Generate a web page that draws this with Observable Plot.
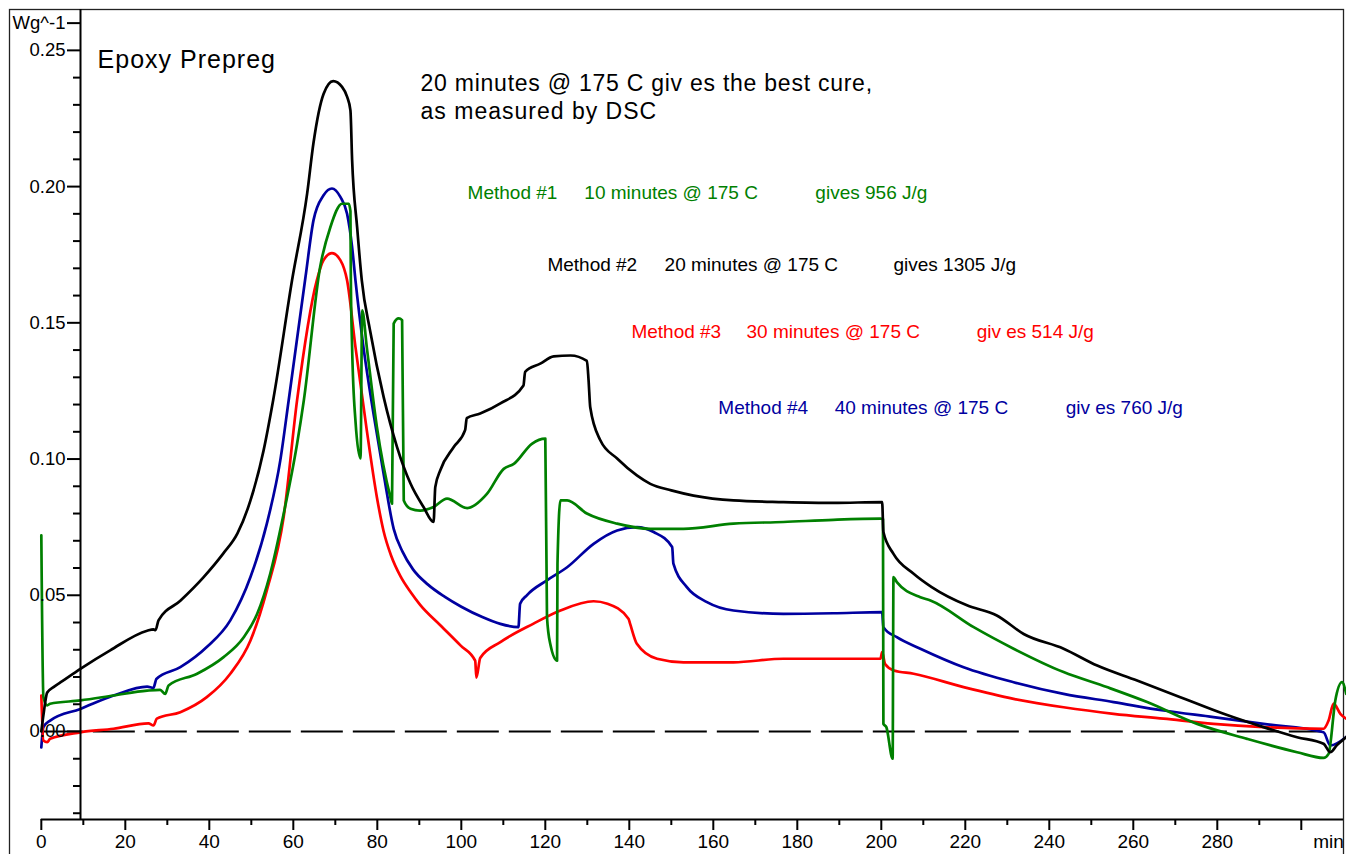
<!DOCTYPE html>
<html><head><meta charset="utf-8">
<script src="https://cdn.jsdelivr.net/npm/d3@7"></script>
<script src="https://cdn.jsdelivr.net/npm/@observablehq/plot@0.6"></script>
<style>body{margin:0;background:#fff;} svg{display:block;}</style>
</head><body><div id="chart"></div>
<script>
// ---- Data: DSC heat flow (W/g) vs time (min) ----
// Method #1 (green): 10 minutes @ 175 C
const method1 = [[0,0.072],[0.5,0.0126],[1.4,0.0096],[2.1,0.0102],[9.3,0.0114],[17.2,0.0132],[25.2,0.015],[28.3,0.0153],[29.5,0.0138],[30.3,0.0169],[37.1,0.0212],[43.4,0.0273],[48.2,0.0346],[51.4,0.0432],[54.5,0.0579],[57.7,0.0799],[60.9,0.1056],[62.5,0.1215],[66.4,0.1706],[68.8,0.185],[71.6,0.1937],[73.2,0.1937],[73.6,0.191],[73.7,0.1656],[74,0.141],[74.8,0.114],[76,0.1002],[76.4,0.1546],[77.5,0.141],[79.9,0.1118],[83.1,0.086],[83.5,0.0836],[83.9,0.1497],[85.1,0.1516],[85.9,0.151],[86.3,0.0848],[87.9,0.0818],[90.2,0.0811],[93.4,0.0824],[96.6,0.0855],[101.4,0.082],[106.1,0.0872],[110.1,0.0964],[112.5,0.0982],[116.8,0.1056],[120,0.1075],[120.4,0.042],[121.2,0.032],[122.8,0.026],[122.9,0.0616],[123.6,0.0848],[125.2,0.0848],[129.9,0.080],[137.1,0.0763],[145,0.0744],[152.9,0.0744],[164.8,0.0763],[176.7,0.0769],[188.6,0.0777],[199.8,0.0781],[200.4,0.078],[200.5,0.0028],[201.2,0.0016],[202.7,-0.01],[202.9,0.0567],[203.7,0.0548],[209.3,0.0493],[211.7,0.0481],[222,0.0383],[231.5,0.0304],[243.4,0.0218],[253.7,0.0163],[263.3,0.0108],[275.2,0.0028],[287.1,-0.0027],[299,-0.0076],[305.3,-0.0097],[306.5,-0.0082],[308.1,0.0114],[309.7,0.0181],[310.7,0.0138]];
// Method #2 (black): 20 minutes @ 175 C
const method2 = [[0,0.0],[0.5,0.006],[1.4,0.0143],[2.9,0.0163],[5,0.0185],[9.3,0.023],[16.4,0.0298],[25.2,0.037],[26.7,0.0375],[27.2,0.0372],[27.9,0.0408],[33.1,0.048],[38.6,0.0566],[43.3,0.0653],[46.7,0.0727],[49.8,0.0848],[52.9,0.103],[55.2,0.1216],[59.7,0.1656],[63.3,0.1975],[64.8,0.216],[67.2,0.234],[69.5,0.2387],[71.6,0.2366],[72.8,0.233],[73.6,0.228],[74.0,0.2098],[75.2,0.185],[76.3,0.1657],[78.3,0.147],[81.5,0.1228],[84.7,0.1044],[87.9,0.091],[91.0,0.0824],[93.4,0.0769],[93.8,0.0897],[95.0,0.0959],[98.2,0.1044],[100.9,0.1106],[101.3,0.115],[104.5,0.1167],[109.3,0.1204],[114.8,0.127],[115.2,0.132],[118.8,0.135],[122,0.1377],[126,0.138],[129.9,0.136],[130.3,0.129],[130.7,0.119],[133.1,0.1069],[137.1,0.1002],[141.8,0.094],[145,0.0909],[150,0.0885],[155.3,0.0866],[164.8,0.0848],[176.7,0.0842],[188.6,0.0839],[200.2,0.0842],[200.5,0.0732],[202.9,0.0652],[207.7,0.0579],[212,0.053],[220.4,0.0463],[227.5,0.0426],[233.9,0.0358],[243.4,0.0304],[251.4,0.0242],[260.9,0.0187],[271.2,0.0126],[281.5,0.0065],[291,0.0016],[299,-0.0021],[305.3,-0.0045],[306.9,-0.0076],[308.5,-0.005],[310.7,-0.002]];
// Method #3 (red): 30 minutes @ 175 C
const method3 = [[0,0.0132],[0.5,-0.0033],[1.4,-0.0039],[2.1,-0.0027],[9.3,-0.0003],[17.2,0.001],[25.5,0.003],[26.7,0.0022],[27.5,0.0047],[33.1,0.0071],[39.4,0.0126],[45,0.0212],[49.8,0.0334],[53.7,0.0518],[57.7,0.0787],[60.9,0.1216],[65.6,0.1656],[67.2,0.173],[69.2,0.1756],[71.2,0.173],[72.8,0.1656],[74.8,0.1411],[77.5,0.1105],[79.9,0.086],[81.5,0.0735],[83.3,0.0645],[85.5,0.057],[88,0.051],[90.2,0.0465],[95,0.039],[99.8,0.0316],[103.3,0.026],[103.6,0.0198],[104.5,0.027],[109.3,0.0328],[117.2,0.0396],[123.6,0.0444],[131.5,0.0478],[134.8,0.0469],[139.8,0.0414],[140.2,0.0395],[141.8,0.0322],[146.6,0.0267],[152.9,0.0254],[164.8,0.0254],[176.7,0.0267],[188.6,0.0267],[199.8,0.0267],[200.2,0.0291],[200.9,0.0248],[203,0.0224],[207.7,0.0212],[219.6,0.0163],[231.5,0.012],[243.4,0.0089],[255.3,0.0065],[267.2,0.0047],[279.1,0.0028],[291,0.0016],[305.3,0.001],[306.5,0.004],[307.7,0.0102],[309.3,0.0065],[310.7,0.0047]];
// Method #4 (blue): 40 minutes @ 175 C
const method4 = [[0,-0.0058],[0.5,0.0016],[2.1,0.004],[9.3,0.0083],[17.2,0.0132],[25.2,0.0165],[26.7,0.016],[27.4,0.0193],[33.1,0.0236],[39.4,0.031],[45,0.0408],[49.8,0.0567],[53.7,0.0763],[56.9,0.0995],[58.9,0.1216],[62.9,0.1668],[64.8,0.1876],[67.2,0.1968],[69.2,0.1993],[71.2,0.1962],[72.8,0.19],[74,0.1778],[74.8,0.1656],[76.7,0.1411],[79.1,0.1166],[81.5,0.0946],[83.9,0.0744],[86,0.066],[88.5,0.0595],[92,0.054],[96,0.0495],[100,0.0458],[105,0.042],[109.3,0.0395],[113.6,0.0383],[114,0.0469],[115.6,0.05],[120.4,0.0555],[125.2,0.0603],[131.5,0.0689],[137.1,0.0738],[141.8,0.075],[145.8,0.0732],[150.2,0.0677],[150.5,0.0616],[153.7,0.053],[158.5,0.0475],[164.8,0.0444],[176.7,0.0432],[188.6,0.0434],[200.2,0.0438],[200.5,0.0383],[203.7,0.0346],[209.3,0.0304],[219.6,0.0236],[231.5,0.0181],[243.4,0.0138],[255.3,0.0108],[267.2,0.0077],[279.1,0.0053],[291,0.0028],[305.3,-0.0003],[306.9,-0.0051],[310.7,-0.002]];
// Baseline (dashed zero line) extent
const baselineX = [0, 305];

// Ticks and labels
const xMajorTicks = [0,20,40,60,80,100,120,140,160,180,200,220,240,260,280,300];
const xTickLabels = ["0","20","40","60","80","100","120","140","160","180","200","220","240","260","280",""];
const xMinorTicks = [10,30,50,70,90,110,130,150,170,190,210,230,250,270,290];
const xUnitLabel = [{x: 306.5, y: -0.0404, text: "min"}];
const yMajorTicks = [0,0.05,0.10,0.15,0.20,0.25,0.26];
const yTickLabels = ["0.00","0.05","0.10","0.15","0.20","0.25","Wg^-1"];
const yMinorTicks = [-0.03,-0.02,-0.01,0.01,0.02,0.03,0.04,0.06,0.07,0.08,0.09,0.11,0.12,0.13,0.14,0.16,0.17,0.18,0.19,0.21,0.22,0.23,0.24];

// Annotations
const titleNotes = [
  {x: 13.4, y: 0.2463, text: "Epoxy Prepreg", size: 25},
  {x: 90.3, y: 0.2379, text: "20 minutes @ 175 C giv es the best cure,", size: 23},
  {x: 90.3, y: 0.2276, text: "as measured by DSC", size: 23}
];
const noteSpacing = ["1px", "0.75px", "1px"];
const methodNames = ["Method #1","Method #2","Method #3","Method #4"];
const methodTimes = ["10 minutes @ 175 C","20 minutes @ 175 C","30 minutes @ 175 C","40 minutes @ 175 C"];
const methodResults = ["gives 956 J/g","gives 1305 J/g","giv es 514 J/g","giv es 760 J/g"];
const methodLabelY = [0.1975, 0.1711, 0.1468, 0.1189];
const methodNameX = [101.5, 120.5, 140.5, 161.2];
const methodTimeX = [129.3, 148.4, 167.9, 188.9];
const methodResultX = [184.3, 202.9, 222.7, 243.9];
const methodColors = ["#008000", "#000000", "#ff0000", "#0000a0"];

// ---- Layout ----
const X_DOMAIN = [9.33, 310.05];
const Y_DOMAIN = [-0.0323, 0.265];
const FONT = '"Liberation Sans", Arial, Helvetica, sans-serif';

const xLabel = new Map(xMajorTicks.map((d, i) => [d, xTickLabels[i]]));
const yLabel = new Map(yMajorTicks.map((d, i) => [d, yTickLabels[i]]));

const methodText = [];
methodNames.forEach((m, i) => {
  methodText.push({x: methodNameX[i], y: methodLabelY[i], text: m, c: methodColors[i]});
  methodText.push({x: methodTimeX[i], y: methodLabelY[i], text: methodTimes[i], c: methodColors[i]});
  methodText.push({x: methodResultX[i], y: methodLabelY[i], text: methodResults[i], c: methodColors[i]});
});

const series = [method4, method3, method1, method2];
const seriesColors = ["#0000a0", "#ff0000", "#008000", "#000000"];

const lineMarks = series.map((s, i) => Plot.line(s, {
  x: d => d[0], y: d => d[1], stroke: seriesColors[i], strokeWidth: 2.7,
  curve: "monotone-x", strokeLinejoin: "round", strokeLinecap: "round"
}));

const chart = Plot.plot({
  width: 1346, height: 854,
  marginLeft: 80, marginRight: 3, marginTop: 9, marginBottom: 35,
  x: {domain: X_DOMAIN},
  y: {domain: Y_DOMAIN},
  style: {fontFamily: FONT, fontSize: "18.5px", background: "#fff", color: "#000", overflow: "visible"},
  marks: [
    Plot.frame({insetLeft: -71, insetBottom: -40, stroke: "#222", strokeWidth: 1.3}),
    Plot.ruleY([0], {x1: baselineX[0], x2: baselineX[1], stroke: "#000", strokeWidth: 2, strokeDasharray: "42,10"}),
    ...lineMarks,
    Plot.ruleX([X_DOMAIN[0]], {stroke: "#000", strokeWidth: 2}),
    Plot.ruleY([Y_DOMAIN[0]], {x1: 0, x2: X_DOMAIN[1], stroke: "#000", strokeWidth: 2}),
    Plot.axisY(yMinorTicks, {anchor: "left", tickSize: 7, tickFormat: () => "", strokeWidth: 2, label: null}),
    Plot.axisY(yMajorTicks, {anchor: "left", tickSize: 13, tickPadding: 2, tickFormat: d => yLabel.get(d), strokeWidth: 2, fontSize: 18.5, label: null}),
    Plot.axisX(xMinorTicks, {anchor: "bottom", tickSize: 6, tickFormat: () => "", strokeWidth: 2, label: null}),
    Plot.axisX(xMajorTicks, {anchor: "bottom", tickSize: 11, tickPadding: 4, tickFormat: d => xLabel.get(d), strokeWidth: 2, fontSize: 19, label: null}),
    Plot.text(xUnitLabel, {x: "x", y: "y", text: "text", fontSize: 19, fill: "#000"}),
    Plot.text(titleNotes, {x: "x", y: "y", text: "text", fontSize: d => d.size, textAnchor: "start", fill: "#000"}),
    Plot.text(methodText, {x: "x", y: "y", text: "text", fill: "c", fontSize: 19, textAnchor: "start"})
  ]
});
// wider letter spacing for the large annotation lines, as in the original
const noteSpacingMap = new Map(titleNotes.map((d, i) => [d.text, noteSpacing[i]]));
d3.select(chart).selectAll("text").filter(function() { return noteSpacingMap.has(this.textContent); })
  .style("letter-spacing", function() { return noteSpacingMap.get(this.textContent); });
document.getElementById("chart").appendChild(chart);
</script>
</body></html>
